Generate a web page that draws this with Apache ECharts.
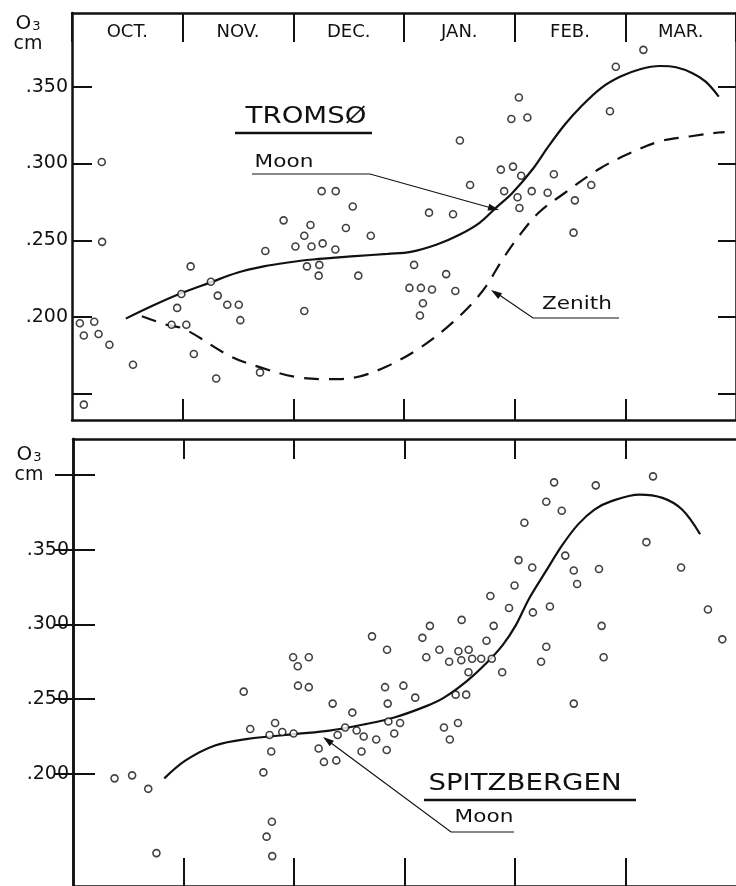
<!DOCTYPE html>
<html>
<head>
<meta charset="utf-8">
<script src="https://cdn.jsdelivr.net/npm/echarts@6/dist/echarts.min.js"></script>
<style>
  html, body { margin: 0; background: #fff; }
  #chart { width: 736px; height: 886px; }
</style>
</head>
<body>
<div id="chart"></div>
<script>
"use strict";

// x = months since 1 Oct (OCT = 0..1, NOV = 1..2, ...)
var months = ['OCT.', 'NOV.', 'DEC.', 'JAN.', 'FEB.', 'MAR.'];

var tromsoTicks = [0.15, 0.2, 0.25, 0.3, 0.35];
var tromsoLabels = [0.2, 0.25, 0.3, 0.35];
var spitzTicks = [0.2, 0.25, 0.3, 0.35, 0.4];
var spitzLabels = [0.2, 0.25, 0.3, 0.35];

// Tromso observations [month, O3 cm]
var tromsoObs = [
    [0.269, 0.301], [0.272, 0.249], [0.071, 0.196], [0.201, 0.197], [0.107, 0.188],
    [0.240, 0.189], [0.338, 0.182], [0.551, 0.169], [0.107, 0.143],
    [1.072, 0.233], [0.988, 0.215], [0.950, 0.206], [0.900, 0.195], [1.033, 0.195],
    [1.255, 0.223], [1.317, 0.214], [1.403, 0.208], [1.507, 0.208], [1.521, 0.198],
    [1.101, 0.176], [1.303, 0.160], [1.699, 0.164],
    [1.747, 0.243], [1.912, 0.263], [2.019, 0.246], [2.099, 0.253], [2.155, 0.260],
    [2.164, 0.246], [2.265, 0.248], [2.380, 0.244], [2.123, 0.233], [2.235, 0.234],
    [2.229, 0.227], [2.099, 0.204], [2.256, 0.282], [2.383, 0.282], [2.537, 0.272],
    [2.475, 0.258], [2.587, 0.227], [2.700, 0.253],
    [3.091, 0.234], [3.381, 0.228], [3.049, 0.219], [3.153, 0.219], [3.253, 0.218],
    [3.464, 0.217], [3.171, 0.209], [3.144, 0.201], [3.226, 0.268], [3.443, 0.267],
    [3.505, 0.315], [3.597, 0.286],
    [4.038, 0.343], [3.970, 0.329], [4.115, 0.330], [3.875, 0.296], [3.985, 0.298],
    [4.059, 0.292], [3.905, 0.282], [4.026, 0.278], [4.043, 0.271], [4.154, 0.282],
    [4.298, 0.281], [4.354, 0.293], [4.544, 0.276], [4.692, 0.286], [4.532, 0.255],
    [4.914, 0.363], [4.861, 0.334], [5.163, 0.374]
];

var tromsoMoon = [
    [0.486, 0.199], [0.722, 0.2072], [0.986, 0.2155], [1.252, 0.2226], [1.492, 0.2289],
    [1.732, 0.233], [1.936, 0.2354], [2.176, 0.2375], [2.558, 0.2397], [2.853, 0.2412],
    [3.061, 0.2425], [3.297, 0.2473], [3.505, 0.2538], [3.683, 0.2614], [3.830, 0.2711],
    [3.979, 0.2808], [4.171, 0.2971], [4.305, 0.3111], [4.452, 0.3252], [4.600, 0.3371],
    [4.778, 0.349], [4.956, 0.3566], [5.133, 0.3614], [5.311, 0.3635], [5.459, 0.3627],
    [5.607, 0.3588], [5.726, 0.3533], [5.844, 0.3436]
];

var tromsoZenith = [
    [0.631, 0.2005], [0.841, 0.1953], [1.021, 0.192], [1.430, 0.1745], [1.696, 0.1674],
    [2.025, 0.161], [2.318, 0.1596], [2.558, 0.1607], [2.853, 0.1682], [3.150, 0.1802],
    [3.386, 0.1932], [3.594, 0.2072], [3.742, 0.2202], [3.890, 0.2375], [4.038, 0.2527],
    [4.216, 0.2679], [4.452, 0.2808], [4.778, 0.2971], [5.044, 0.3068], [5.311, 0.3144],
    [5.577, 0.3176], [5.844, 0.3202], [5.897, 0.3205]
];

// Spitzbergen observations [month, O3 cm]
var spitzObs = [
    [0.376, 0.197], [0.535, 0.199], [0.681, 0.190], [0.755, 0.147],
    [1.545, 0.255], [1.604, 0.230], [1.829, 0.234], [1.779, 0.226], [1.894, 0.228],
    [1.996, 0.227], [1.794, 0.215], [1.723, 0.201], [1.800, 0.168], [1.752, 0.158],
    [1.803, 0.145],
    [1.992, 0.278], [2.134, 0.278], [2.034, 0.272], [2.036, 0.259], [2.134, 0.258],
    [2.350, 0.247], [2.528, 0.241], [2.463, 0.231], [2.395, 0.226], [2.567, 0.229],
    [2.631, 0.225], [2.223, 0.217], [2.271, 0.208], [2.383, 0.209], [2.611, 0.215],
    [2.706, 0.292], [2.842, 0.283], [2.824, 0.258], [2.990, 0.259], [2.848, 0.247],
    [2.854, 0.235], [2.960, 0.234], [2.907, 0.227], [2.744, 0.223], [2.839, 0.216],
    [3.097, 0.251], [3.162, 0.291], [3.230, 0.299], [3.197, 0.278], [3.316, 0.283],
    [3.404, 0.275], [3.488, 0.282], [3.514, 0.276], [3.581, 0.283], [3.612, 0.277],
    [3.694, 0.277], [3.790, 0.277], [3.742, 0.289], [3.579, 0.268], [3.517, 0.303],
    [3.807, 0.299], [3.884, 0.268], [3.357, 0.231], [3.484, 0.234], [3.410, 0.223],
    [3.463, 0.253], [3.558, 0.253],
    [3.777, 0.319], [3.946, 0.311], [3.996, 0.326], [4.032, 0.343], [4.085, 0.368],
    [4.156, 0.338], [4.162, 0.308], [4.316, 0.312], [4.283, 0.382], [4.354, 0.395],
    [4.423, 0.376], [4.455, 0.346], [4.532, 0.336], [4.562, 0.327], [4.283, 0.285],
    [4.236, 0.275], [4.731, 0.393], [4.760, 0.337], [4.784, 0.299], [4.802, 0.278],
    [4.532, 0.247], [5.249, 0.399], [5.189, 0.355], [5.503, 0.338], [5.746, 0.310],
    [5.876, 0.290]
];

var spitzMoon = [
    [0.826, 0.197], [1.019, 0.209], [1.285, 0.219], [1.581, 0.2234], [2.025, 0.2267],
    [2.321, 0.2289], [2.647, 0.2333], [2.907, 0.2377], [3.203, 0.2455], [3.357, 0.251],
    [3.564, 0.2621], [3.742, 0.2742], [3.890, 0.2863], [4.008, 0.2995], [4.127, 0.3172],
    [4.274, 0.3349], [4.423, 0.3525], [4.571, 0.3669], [4.719, 0.3768], [4.867, 0.3823],
    [5.127, 0.3868], [5.335, 0.3846], [5.512, 0.3768], [5.675, 0.3603]
];

var FONT = '"DejaVu Sans", sans-serif';
var INK = '#111';

function fmtO3(v) {
    return v.toFixed(3).replace(/^0/, '');
}

function yAxisPair(grid, min, max, ticks, labels, leftLen, rightLen) {
    return [{
        type: 'value', gridIndex: grid, position: 'left', min: min, max: max,
        axisLine: { show: true, lineStyle: { color: INK, width: 2.5 } },
        axisTick: { show: true, inside: true, length: leftLen, customValues: ticks,
            lineStyle: { color: INK, width: 2 } },
        axisLabel: { show: true, customValues: labels, formatter: fmtO3, margin: 4,
            color: INK, fontSize: 19, fontFamily: FONT },
        splitLine: { show: false }
    }, {
        type: 'value', gridIndex: grid, position: 'right', min: min, max: max,
        axisLine: { show: true, lineStyle: { color: INK, width: 2.5 } },
        axisTick: { show: true, inside: true, length: rightLen, customValues: ticks,
            lineStyle: { color: INK, width: 2 } },
        axisLabel: { show: false },
        splitLine: { show: false }
    }];
}

function monthAxis(grid, pos, len) {
    return {
        type: 'value', gridIndex: grid, position: pos, min: 0, max: 6,
        axisLine: { show: true, lineStyle: { color: INK, width: 2.5 } },
        axisTick: { show: true, inside: true, length: len, customValues: [1, 2, 3, 4, 5],
            lineStyle: { color: INK, width: 2 } },
        axisLabel: { show: false },
        splitLine: { show: false }
    };
}

function obsSeries(data, xi, yi) {
    return {
        type: 'scatter', xAxisIndex: xi, yAxisIndex: yi, data: data,
        symbol: 'circle', symbolSize: 7,
        itemStyle: { color: '#fff', borderColor: INK, borderWidth: 1.6 },
        silent: true, z: 3
    };
}

function curveSeries(data, xi, yi, dashed) {
    return {
        type: 'line', xAxisIndex: xi, yAxisIndex: yi, data: data,
        smooth: 0.35, showSymbol: false, silent: true, z: 2,
        lineStyle: { color: INK, width: 2.2, type: dashed ? [15, 10] : 'solid' }
    };
}

// annotation helpers (pixel space)
function label(text, x, y, size) {
    return {
        type: 'text', x: x, y: y, scaleX: 1.2, silent: true,
        style: { text: text, font: size + 'px ' + FONT, fill: INK,
            align: 'center', verticalAlign: 'middle' }
    };
}

function o3Label(x, y) {
    return {
        type: 'text', x: x, y: y, silent: true,
        style: {
            text: '{o|O}{s|3}\n{c|cm}', fill: INK, align: 'center', verticalAlign: 'top',
            rich: {
                o: { fontSize: 20, fontFamily: FONT, fill: INK, lineHeight: 20 },
                s: { fontSize: 13, fontFamily: FONT, fill: INK, padding: [6, 0, 0, 1], lineHeight: 20 },
                c: { fontSize: 19, fontFamily: FONT, fill: INK, lineHeight: 20 }
            }
        }
    };
}

function rule(points, w) {
    return {
        type: 'polyline', silent: true,
        shape: { points: points },
        style: { stroke: INK, lineWidth: w || 1.2, fill: null }
    };
}

function arrowHead(x1, y1, x2, y2) {
    var a = Math.atan2(y2 - y1, x2 - x1), l = 11, h = 3.5;
    var bx = x2 - l * Math.cos(a), by = y2 - l * Math.sin(a);
    return {
        type: 'polygon', silent: true,
        shape: { points: [[x2, y2],
            [bx + h * Math.sin(a), by - h * Math.cos(a)],
            [bx - h * Math.sin(a), by + h * Math.cos(a)]] },
        style: { fill: INK }
    };
}

var myChart = echarts.init(document.getElementById('chart'), null, { renderer: 'canvas' });

var yAxes = yAxisPair(0, 0.133, 0.398, tromsoTicks, tromsoLabels, 20, 18)
    .concat(yAxisPair(1, 0.125, 0.424, spitzTicks, spitzLabels, 22, 18));

var option = {
    backgroundColor: '#fff',
    animation: false,
    grid: [
        { left: 72, top: 13, right: -12, height: 407 },
        { left: 73, top: 439, right: -12, height: 451 }
    ],
    xAxis: [
        monthAxis(0, 'bottom', 21),
        {
            type: 'category', gridIndex: 0, position: 'top', data: months, boundaryGap: true,
            axisLine: { show: true, lineStyle: { color: INK, width: 2.5 } },
            axisTick: { show: true, inside: true, length: 29, interval: 0,
                lineStyle: { color: INK, width: 2 } },
            axisLabel: { show: true, inside: true, interval: 0, margin: 10,
                color: INK, fontSize: 18, fontFamily: FONT },
            splitLine: { show: false }
        },
        monthAxis(1, 'bottom', 28),
        monthAxis(1, 'top', 20)
    ],
    yAxis: yAxes,
    series: [
        obsSeries(tromsoObs, 0, 0),
        curveSeries(tromsoMoon, 0, 0, false),
        curveSeries(tromsoZenith, 0, 0, true),
        obsSeries(spitzObs, 2, 2),
        curveSeries(spitzMoon, 2, 2, false)
    ],
    graphic: [
        o3Label(28, 14),
        o3Label(29, 445),

        label('TROMS\u00D8', 306, 117, 23), rule([[235, 133], [372, 133]], 2.5),
        label('Moon', 284, 162, 18),
        rule([[252, 174], [370, 174], [495, 209]]), arrowHead(370, 174, 499, 210),
        label('Zenith', 577, 304, 18),
        rule([[619, 318], [533, 318], [495, 292]]), arrowHead(533, 318, 491, 290),

        label('SPITZBERGEN', 525, 784, 23), rule([[424, 800], [636, 800]], 2.5),
        label('Moon', 484, 817, 18),
        rule([[514, 832], [451, 832], [327, 740]]), arrowHead(451, 832, 323, 737)
    ]
};

myChart.setOption(option);
</script>
</body>
</html>
